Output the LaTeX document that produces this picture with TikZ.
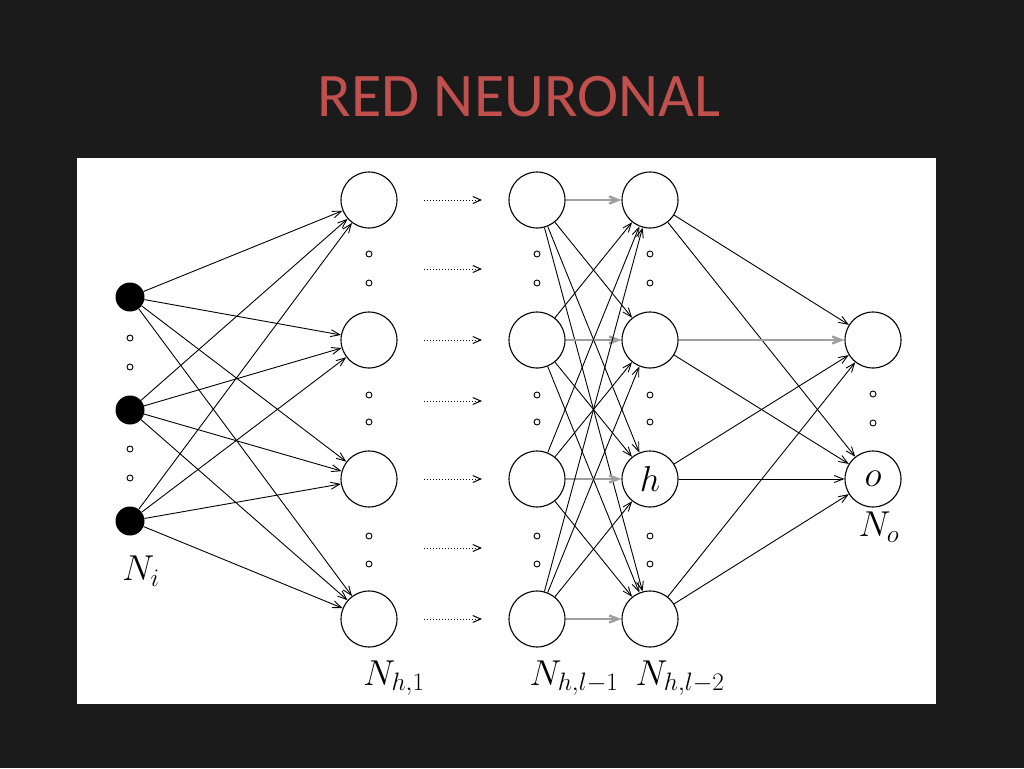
\RequirePackage{fix-cm}
\documentclass[tikz,border=0pt]{standalone}
\usepackage{fontspec}
\newfontfamily\titlefont{Carlito}
\usetikzlibrary{arrows.meta}
\definecolor{slidebg}{HTML}{1B1B1B}
\definecolor{titlered}{HTML}{C0504D}

\begin{document}
\begin{tikzpicture}[x=1pt, y=-1pt,
    neuron/.style={circle, draw, line width=1.1pt, minimum size=56pt, inner sep=0pt},
    inneuron/.style={circle, fill=black, minimum size=29pt, inner sep=0pt},
    dotmark/.style={circle, draw, line width=0.9pt, minimum size=6pt, inner sep=0pt},
    link/.style={line width=0.9pt, -{Straight Barb[length=9pt, width=7pt]}},
    samelink/.style={link, draw=gray!75, line width=2.4pt},
    feed/.style={dotted, line width=1pt, -{Straight Barb[length=8pt, width=7pt]}},
    lbl/.style={font=\fontsize{36}{40}\selectfont}]
    % slide and panel
    \fill[slidebg] (0,0) rectangle (1024,768);
    \fill[white] (77,158) rectangle (936,704);
    \node[text=titlered, font=\titlefont\fontsize{62}{66}\selectfont] (T) at (519,97) {RED NEURONAL};

    % input layer
    \node[inneuron] (I1) at (130,297) {};
    \node[inneuron] (I2) at (130,410) {};
    \node[inneuron] (I3) at (130,521) {};

    % hidden layers
    \foreach \i/\y in {1/200, 2/340, 3/479, 4/619} {
        \node[neuron] (A\i) at (369,\y) {};
        \node[neuron] (B\i) at (537,\y) {};
    }
    \node[neuron] (C1) at (650,200) {};
    \node[neuron] (C2) at (650,340) {};
    \node[neuron, lbl] (C3) at (650,479) {$h$};
    \node[neuron] (C4) at (650,619) {};

    % output layer
    \node[neuron] (O1) at (873,340) {};
    \node[neuron, lbl] (O2) at (873,479) {$o$};

    % dots
    \foreach \y in {338, 367, 449, 478}
        \node[dotmark] at (130,\y) {};
    \foreach \x in {369, 537, 650}
        \foreach \y in {254, 283, 395, 422, 536, 564}
            \node[dotmark] at (\x,\y) {};
    \foreach \y in {394, 423}
        \node[dotmark] at (873,\y) {};

    % connections
    \foreach \i in {1,2,3}
        \foreach \j in {1,2,3,4}
            \draw[link] (I\i) -- (A\j);
    \foreach \i in {1,2,3,4}
        \foreach \j in {1,2,3,4} {
            \ifnum\i=\j
                \draw[samelink] (B\i) -- (C\j);
            \else
                \draw[link] (B\i) -- (C\j);
            \fi
        }
    \draw[link] (C1) -- (O1);
    \draw[link] (C1) -- (O2);
    \draw[samelink] (C2) -- (O1);
    \draw[link] (C2) -- (O2);
    \draw[link] (C3) -- (O1);
    \draw[link] (C3) -- (O2);
    \draw[link] (C4) -- (O1);
    \draw[link] (C4) -- (O2);

    % skipped layers
    \foreach \y in {200, 269, 340, 401, 479, 548, 619}
        \draw[feed] (424,\y) -- (482,\y);

    % labels
    \node[lbl] at (141,571) {$N_i$};
    \node[lbl] at (394,678) {$N_{h,1}$};
    \node[lbl] at (574,678) {$N_{h,l-1}$};
    \node[lbl] at (680,678) {$N_{h,l-2}$};
    \node[lbl] at (879,527) {$N_o$};
\end{tikzpicture}
\end{document}
